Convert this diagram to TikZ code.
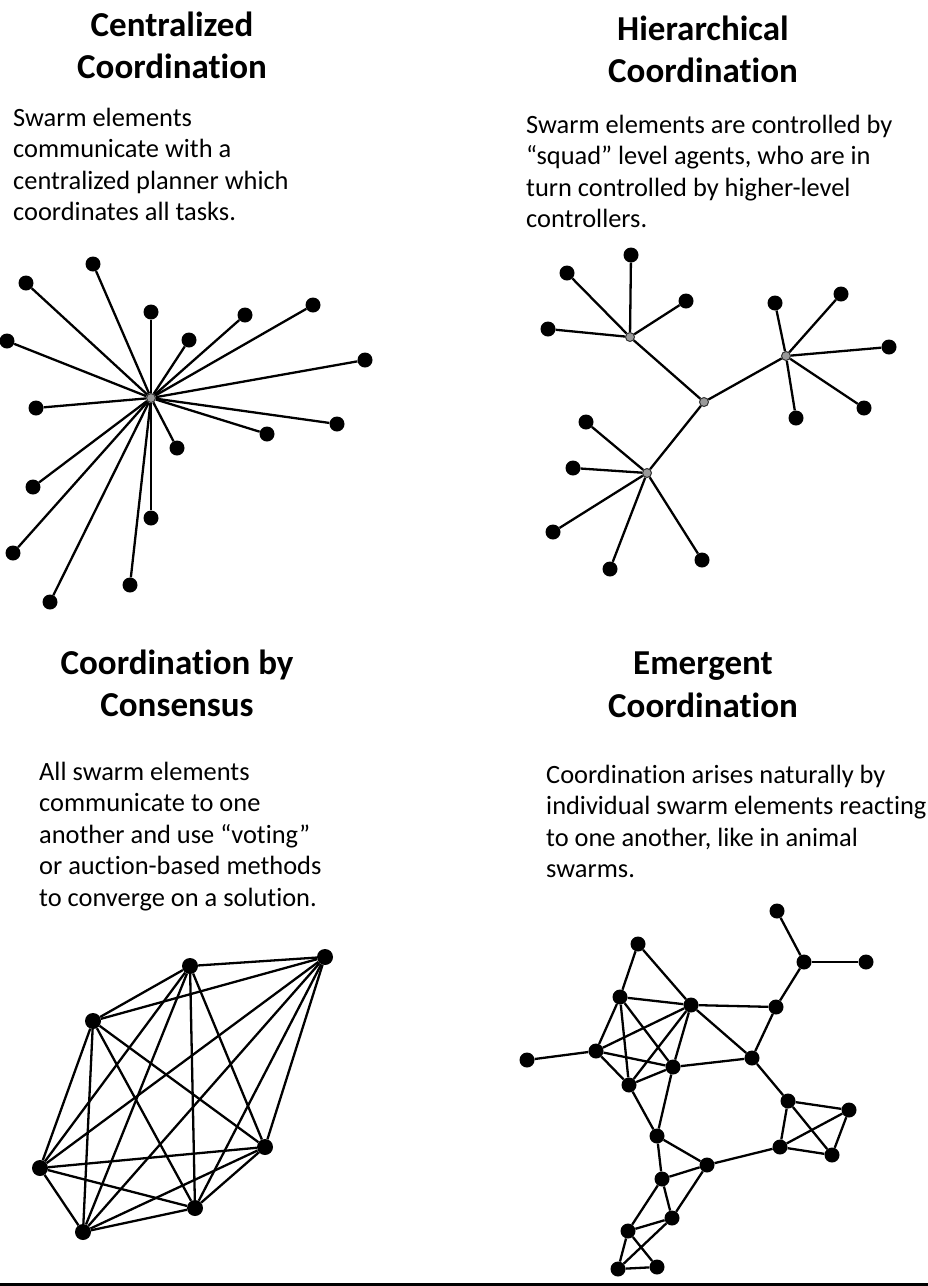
\documentclass[tikz,border=0pt]{standalone}
\usepackage{fontspec}
\setmainfont{Carlito}[Ligatures=NoCommon]
\begin{document}
\begin{tikzpicture}[x=1pt,y=-1pt,
  edge/.style={line width=2.3pt,black},
  leaf/.style={circle,fill=black,inner sep=0pt,minimum size=15pt},
  bigleaf/.style={circle,fill=black,inner sep=0pt,minimum size=16pt},
  hub/.style={circle,fill=black!40,draw=black!80,line width=1pt,inner sep=0pt,minimum size=9pt},
  ttl/.style={anchor=base,inner sep=0pt,font=\fontsize{35}{42}\selectfont\bfseries},
  body/.style={anchor=base west,inner sep=0pt,font=\fontsize{26.4}{31.5}\selectfont}]
\useasboundingbox (0,0) rectangle (928,1286);
\fill[white] (0,0) rectangle (928,1286);
\fill[black] (0,1283) rectangle (928,1286);

% ---------- Texts ----------
\node[ttl] (t1a) at (172,36) {Centralized};
\node[ttl] (t1b) at (172,78) {Coordination};
\node[body] (b1a) at (13,126) {Swarm elements};
\node[body] (b1b) at (13,157.5) {communicate with a};
\node[body] (b1c) at (13,189) {centralized planner which};
\node[body] (b1d) at (13,220.5) {coordinates all tasks.};

\node[ttl] (t2a) at (703,40) {Hierarchical};
\node[ttl] (t2b) at (703,82.5) {Coordination};
\node[body] (b2a) at (526,133) {Swarm elements are controlled by};
\node[body] (b2b) at (526,164.5) {“squad” level agents, who are in};
\node[body] (b2c) at (526,196) {turn controlled by higher-level};
\node[body] (b2d) at (526,227.5) {controllers.};

\node[ttl] (t3a) at (177,674) {Coordination by};
\node[ttl] (t3b) at (177,716) {Consensus};
\node[body] (b3a) at (39,780) {All swarm elements};
\node[body] (b3b) at (39,811.5) {communicate to one};
\node[body] (b3c) at (39,843) {another and use “voting”};
\node[body] (b3d) at (39,874.5) {or auction-based methods};
\node[body] (b3e) at (39,906) {to converge on a solution.};

\node[ttl] (t4a) at (703,674) {Emergent};
\node[ttl] (t4b) at (703,717) {Coordination};
\node[body] (b4a) at (546,783) {Coordination arises naturally by};
\node[body] (b4b) at (546,814.5) {individual swarm elements reacting};
\node[body] (b4c) at (546,846) {to one another, like in animal};
\node[body] (b4d) at (546,877.5) {swarms.};

% ---------- Centralized ----------
\node[hub] (c0) at (151,398) {};
\foreach \i/\x/\y in {1/93/264,2/26/283,3/151/312,4/245/315,5/313/305,6/189/340,
  7/7/341,8/365/360,9/36/408,10/337/424,11/267/434,12/177/448,13/33/487,
  14/151/518,15/13/553,16/130/585,17/50/602}{
  \node[leaf] (c\i) at (\x,\y) {};
  \draw[edge] (c0) -- (c\i);
}

% ---------- Hierarchical ----------
\node[hub] (h0) at (704,402) {};
\node[hub] (hA) at (630,337) {};
\node[hub] (hB) at (786,356) {};
\node[hub] (hC) at (647,473) {};
\draw[edge] (h0) -- (hA);
\draw[edge] (h0) -- (hB);
\draw[edge] (h0) -- (hC);
\foreach \i/\x/\y in {1/631/255,2/567/273,3/686/301,4/548/329}{
  \node[leaf] (ha\i) at (\x,\y) {};
  \draw[edge] (hA) -- (ha\i);
}
\foreach \i/\x/\y in {1/775/303,2/841/294,3/889/347,4/864/408,5/796/418}{
  \node[leaf] (hb\i) at (\x,\y) {};
  \draw[edge] (hB) -- (hb\i);
}
\foreach \i/\x/\y in {1/586/422,2/573/468,3/553/532,4/610/569,5/702/560}{
  \node[leaf] (hc\i) at (\x,\y) {};
  \draw[edge] (hC) -- (hc\i);
}

% ---------- Consensus ----------
\foreach \i/\x/\y in {1/190/966,2/325/957,3/93/1021,4/265/1147,5/40/1168,6/195/1208,7/83/1232}{
  \node[bigleaf] (k\i) at (\x,\y) {};
}
\foreach \i in {1,...,7}{
  \foreach \j in {1,...,7}{
    \ifnum\i<\j \draw[edge] (k\i) -- (k\j); \fi
  }
}

% ---------- Emergent ----------
\foreach \i/\x/\y in {1/777/911,2/804/962,3/866/962,4/638/944,5/620/997,6/691/1005,
  7/776/1007,8/527/1060,9/596/1051,10/673/1067,11/752/1058,12/629/1085,
  13/788/1101,14/849/1110,15/657/1136,16/780/1147,17/832/1155,18/707/1165,
  19/662/1179,20/672/1218,21/628/1231,22/618/1269,23/657/1267}{
  \node[leaf] (e\i) at (\x,\y) {};
}
\foreach \a/\b in {1/2,2/3,2/7,7/6,7/11,4/5,4/6,5/6,5/9,5/12,5/10,6/9,6/12,6/10,6/11,
  8/9,9/10,9/12,12/10,10/15,12/15,10/11,11/13,13/14,13/16,13/17,14/16,14/17,16/17,
  16/18,15/18,15/19,18/19,18/20,19/20,19/21,20/21,20/22,21/22,21/23,22/23}{
  \draw[edge] (e\a) -- (e\b);
}
\end{tikzpicture}
\end{document}
